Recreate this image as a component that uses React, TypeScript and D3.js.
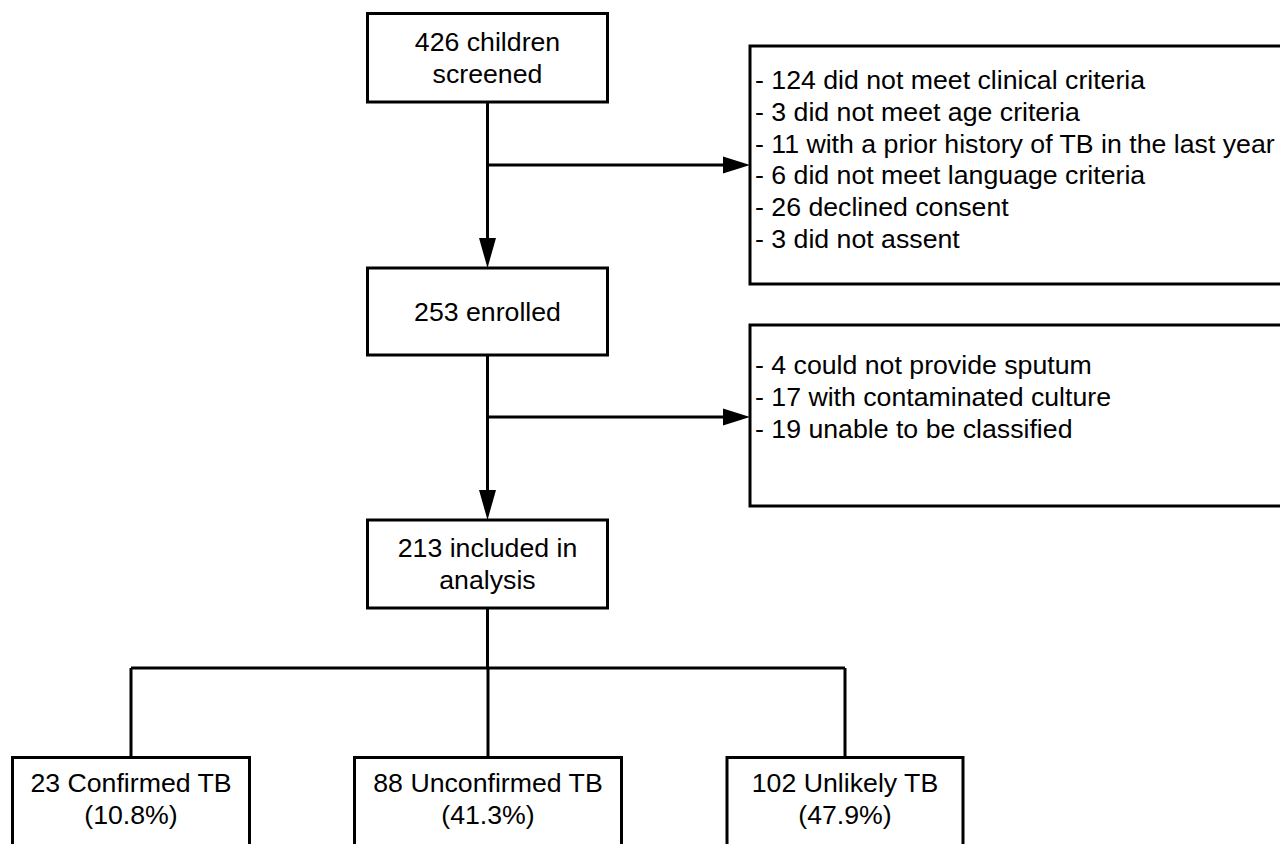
import React from "react";
import * as d3 from "d3";

// ---- data ----
const screenedLines = ["426 children", "screened"];
const enrolledLines = ["253 enrolled"];
const analysisLines = ["213 included in", "analysis"];
const exclusionsScreening = [
  "- 124 did not meet clinical criteria",
  "- 3 did not meet age criteria",
  "- 11 with a prior history of TB in the last year",
  "- 6 did not meet language criteria",
  "- 26 declined consent",
  "- 3 did not assent",
];
const exclusionsEnrolled = [
  "- 4 could not provide sputum",
  "- 17 with contaminated culture",
  "- 19 unable to be classified",
];
const outcomeLabels = ["23 Confirmed TB", "88 Unconfirmed TB", "102 Unlikely TB"];
const outcomePercents = ["(10.8%)", "(41.3%)", "(47.9%)"];

const W = 1280;
const H = 844;
const FONT = "'Liberation Sans', Arial, Helvetica, sans-serif";
const FS = 26.7;
const LH = 31.8;
const SW = 3;

type Box = { x: number; y: number; w: number; h: number };

function CenterText({ lines, cx, cy }: { lines: string[]; cx: number; cy: number }) {
  const start = cy - ((lines.length - 1) * LH) / 2;
  return (
    <>
      {lines.map((l, i) => (
        <text
          key={i}
          x={cx}
          y={start + i * LH}
          textAnchor="middle"
          dominantBaseline="central"
          fontFamily={FONT}
          fontSize={FS}
          fill="#000"
        >
          {l}
        </text>
      ))}
    </>
  );
}

function Rect({ b }: { b: Box }) {
  return <rect x={b.x} y={b.y} width={b.w} height={b.h} fill="#fff" stroke="#000" strokeWidth={SW} />;
}

export default function App() {
  const cx = 487.5;
  const mainW = 240;
  const boxScreen: Box = { x: cx - mainW / 2, y: 13.5, w: mainW, h: 88.5 };
  const boxEnrolled: Box = { x: cx - mainW / 2, y: 268, w: mainW, h: 87 };
  const boxAnalysis: Box = { x: cx - mainW / 2, y: 520, w: mainW, h: 88 };
  const exBox1: Box = { x: 750, y: 46, w: 560, h: 238 };
  const exBox2: Box = { x: 750, y: 325, w: 560, h: 181 };

  // outcome positions through a point scale
  const xOut = d3.scalePoint<string>().domain(outcomeLabels).range([131, 845]);
  const outW = [237, 267, 236];
  const outTop = 757.5;
  const branchY = 668;

  const line = d3.line();
  const arrowV = (x: number, y1: number, y2: number) => {
    const hl = 30, hw = 8.5;
    return {
      shaft: line([[x, y1], [x, y2 - hl + 2]]) as string,
      head: line([[x - hw, y2 - hl], [x + hw, y2 - hl], [x, y2]]) + "Z",
    };
  };
  const arrowH = (y: number, x1: number, x2: number) => {
    const hl = 27, hw = 8.5;
    return {
      shaft: line([[x1, y], [x2 - hl + 2, y]]) as string,
      head: line([[x2 - hl, y - hw], [x2 - hl, y + hw], [x2, y]]) + "Z",
    };
  };

  const a1 = arrowV(cx, boxScreen.y + boxScreen.h, boxEnrolled.y);
  const a2 = arrowV(cx, boxEnrolled.y + boxEnrolled.h, boxAnalysis.y);
  const h1 = arrowH(165, cx, exBox1.x);
  const h2 = arrowH(417, cx, exBox2.x);

  const outXs = outcomeLabels.map((d) => xOut(d) as number);

  return (
    <svg
      width={W}
      height={H}
      viewBox={`0 0 ${W} ${H}`}
      style={{ position: "absolute", left: 0, top: 0, background: "#fff" }}
    >
      <rect x={0} y={0} width={W} height={H} fill="#fff" />
      <g stroke="#000" strokeWidth={SW} fill="none">
        <path d={a1.shaft} />
        <path d={a2.shaft} />
        <path d={h1.shaft} />
        <path d={h2.shaft} />
        <path d={line([[cx, boxAnalysis.y + boxAnalysis.h], [cx, branchY]]) as string} />
        <path d={line([[outXs[0], branchY], [outXs[2], branchY]]) as string} />
        {outXs.map((x, i) => (
          <path key={i} d={line([[x, branchY], [x, outTop]]) as string} />
        ))}
      </g>
      <g fill="#000" stroke="none">
        <path d={a1.head} />
        <path d={a2.head} />
        <path d={h1.head} />
        <path d={h2.head} />
      </g>

      <Rect b={boxScreen} />
      <CenterText lines={screenedLines} cx={cx} cy={boxScreen.y + boxScreen.h / 2} />
      <Rect b={boxEnrolled} />
      <CenterText lines={enrolledLines} cx={cx} cy={boxEnrolled.y + boxEnrolled.h / 2} />
      <Rect b={boxAnalysis} />
      <CenterText lines={analysisLines} cx={cx} cy={boxAnalysis.y + boxAnalysis.h / 2} />

      <Rect b={exBox1} />
      {exclusionsScreening.map((t, i) => (
        <text key={i} x={755} y={80 + i * LH} dominantBaseline="central" fontFamily={FONT} fontSize={FS} fill="#000">
          {t}
        </text>
      ))}
      <Rect b={exBox2} />
      {exclusionsEnrolled.map((t, i) => (
        <text key={i} x={755} y={365 + i * LH} dominantBaseline="central" fontFamily={FONT} fontSize={FS} fill="#000">
          {t}
        </text>
      ))}

      {outcomeLabels.map((lab, i) => {
        const b: Box = { x: outXs[i] - outW[i] / 2, y: outTop, w: outW[i], h: 140 };
        return (
          <g key={lab}>
            <Rect b={b} />
            <CenterText lines={[lab, outcomePercents[i]]} cx={outXs[i]} cy={799} />
          </g>
        );
      })}
    </svg>
  );
}
